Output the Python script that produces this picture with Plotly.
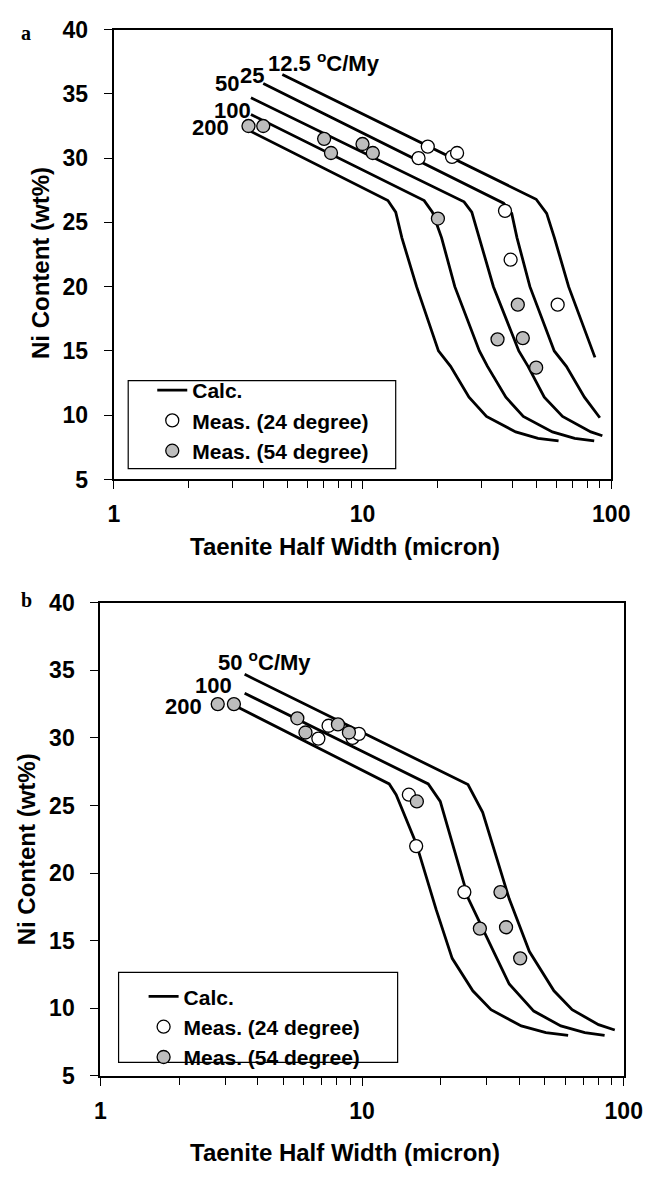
import numpy as np
import plotly.graph_objects as go

W, H = 662, 1177

# ---------------- Panel a data ----------------
a_rates = ["12.5", "25", "50", "100", "200"]
a_x_12 = [4.76, 49.9, 55.0, 59.1, 67.4, 86.0]
a_y_12 = [36.5, 26.8, 25.7, 23.8, 20.0, 14.5]
a_x_25 = [3.99, 36.9, 39.8, 41.8, 47.1, 59.0, 66.0, 78.0, 90.0]
a_y_25 = [35.8, 26.5, 25.7, 23.8, 20.0, 15.0, 13.8, 11.4, 9.8]
a_x_50 = [3.56, 25.6, 27.5, 29.5, 33.6, 42.5, 46.3, 53.8, 63.7, 82.8, 92.1]
a_y_50 = [34.7, 26.6, 25.8, 23.8, 20.0, 15.0, 13.8, 11.4, 9.9, 8.7, 8.4]
a_x_100 = [3.56, 17.7, 19.1, 20.8, 23.5, 29.5, 31.8, 37.7, 44.3, 58.0, 71.3, 85.4]
a_y_100 = [33.4, 26.7, 25.8, 23.8, 20.0, 15.0, 13.8, 11.4, 9.9, 8.7, 8.2, 8.0]
a_x_200 = [3.30, 12.65, 13.6, 14.4, 16.5, 20.2, 22.6, 26.8, 31.5, 41.3, 50.8, 61.4]
a_y_200 = [32.4, 26.7, 25.8, 23.8, 20.0, 15.0, 13.8, 11.4, 9.9, 8.7, 8.2, 8.0]

a_meas24_x = [18.3, 16.8, 22.9, 24.0, 37.4, 39.4, 60.9]
a_meas24_y = [30.9, 30.0, 30.1, 30.4, 25.9, 22.1, 18.6]
a_meas54_x = [3.48, 3.99, 7.01, 7.47, 10.0, 11.0, 20.1, 42.1, 34.9, 44.1, 49.9]
a_meas54_y = [32.5, 32.5, 31.5, 30.4, 31.1, 30.4, 25.3, 18.6, 15.9, 16.0, 13.7]

# ---------------- Panel b data ----------------
b_rates = ["50", "100", "200"]
b_x_50 = [3.56, 25.4, 28.9, 31.4, 36.5, 43.6, 54.1, 63.5, 80.1, 92.4]
b_y_50 = [34.7, 26.55, 24.5, 22.2, 18.1, 14.2, 11.3, 9.9, 8.8, 8.4]
b_x_100 = [3.56, 17.9, 19.9, 22.1, 25.5, 32.2, 36.5, 45.3, 57.5, 71.0, 84.5]
b_y_100 = [33.3, 26.6, 25.3, 22.2, 18.1, 14.0, 11.8, 9.8, 8.7, 8.2, 8.0]
b_x_200 = [3.33, 12.7, 13.5, 16.1, 19.2, 22.1, 26.5, 31.1, 40.6, 50.4, 61.3]
b_y_200 = [32.3, 26.6, 25.8, 22.2, 17.3, 13.7, 11.3, 9.9, 8.7, 8.2, 8.0]

b_meas24_x = [7.45, 6.81, 9.2, 9.73, 15.1, 16.1, 24.6]
b_meas24_y = [30.9, 29.95, 30.0, 30.3, 25.8, 22.0, 18.6]
b_meas54_x = [2.81, 3.24, 5.66, 6.08, 8.09, 8.91, 16.2, 33.8, 28.2, 35.5, 40.2]
b_meas54_y = [32.5, 32.5, 31.45, 30.4, 31.0, 30.4, 25.3, 18.6, 15.9, 16.0, 13.7]

x_major_ticks = [1, 10, 100]
x_minor_ticks = [2, 3, 4, 5, 6, 7, 8, 9, 20, 30, 40, 50, 60, 70, 80, 90]

FONT = "Liberation Sans, Arial, Helvetica, sans-serif"
LINE_W = 2.8
GRAY = "#bdbdbd"

fig = go.Figure()


def add_panel(curves, m24, m54, xa, ya, leg):
    for i, (cx, cy) in enumerate(curves):
        fig.add_trace(go.Scatter(
            x=cx, y=cy, mode="lines", xaxis=xa, yaxis=ya,
            line=dict(color="black", width=LINE_W),
            name="Calc.", showlegend=(i == 0), legend=leg))
    fig.add_trace(go.Scatter(
        x=m24[0], y=m24[1], mode="markers", xaxis=xa, yaxis=ya,
        marker=dict(size=13, color="white", line=dict(color="black", width=1.3)),
        name="Meas. (24 degree)", legend=leg))
    fig.add_trace(go.Scatter(
        x=m54[0], y=m54[1], mode="markers", xaxis=xa, yaxis=ya,
        marker=dict(size=13, color=GRAY, line=dict(color="black", width=1.3)),
        name="Meas. (54 degree)", legend=leg))


add_panel([(a_x_12, a_y_12), (a_x_25, a_y_25), (a_x_50, a_y_50),
           (a_x_100, a_y_100), (a_x_200, a_y_200)],
          (a_meas24_x, a_meas24_y), (a_meas54_x, a_meas54_y), "x", "y", "legend")
add_panel([(b_x_50, b_y_50), (b_x_100, b_y_100), (b_x_200, b_y_200)],
          (b_meas24_x, b_meas24_y), (b_meas54_x, b_meas54_y), "x2", "y2", "legend2")


def xaxis_cfg(domain, anchor):
    return dict(domain=domain, anchor=anchor, type="log", range=[0, 2],
                tickmode="array", tickvals=x_major_ticks,
                ticktext=[str(v) for v in x_major_ticks],
                ticks="outside", ticklen=8, tickwidth=1, tickcolor="black",
                minor=dict(tickmode="array", tickvals=x_minor_ticks, ticks="outside",
                           ticklen=7, tickwidth=1, tickcolor="black", showgrid=False),
                showline=True, linewidth=2, linecolor="black", mirror=True,
                showgrid=False, zeroline=False, ticklabelstandoff=5,
                tickfont=dict(family=FONT, size=23, color="black", weight="bold"))


def yaxis_cfg(domain, anchor):
    return dict(domain=domain, anchor=anchor, range=[5, 40], tick0=5, dtick=5,
                ticks="outside", ticklen=8, tickwidth=1, tickcolor="black",
                showline=True, linewidth=2, linecolor="black", mirror=True,
                showgrid=False, zeroline=False, ticklabelstandoff=11,
                tickfont=dict(family=FONT, size=23, color="black", weight="bold"))


def px_x(p):
    return p / W


def px_y(p):
    return 1 - p / H


ann = []
title_font = dict(family=FONT, size=24, color="black", weight="bold")
lab_font = dict(family=FONT, size=22, color="black", weight="bold")

# axis titles
for xc, yc in [(352, 546), (352, 1165)]:
    ann.append(dict(text="Taenite Half Width (micron)", x=px_x(xc), y=px_y(yc),
                    xref="paper", yref="paper", showarrow=False, font=title_font,
                    xanchor="center", yanchor="middle"))
for xc, yc in [(36, 256), (21, 855)]:
    ann.append(dict(text="Ni Content (wt%)", x=px_x(xc), y=px_y(yc), textangle=-90,
                    xref="paper", yref="paper", showarrow=False, font=title_font,
                    xanchor="center", yanchor="middle"))
# panel letters
for t, yc in [("a", 20), ("b", 600)]:
    ann.append(dict(text=t, x=px_x(21), y=px_y(yc), xref="paper", yref="paper",
                    showarrow=False, xanchor="center", yanchor="middle",
                    font=dict(family="Liberation Serif, Times New Roman, serif",
                              size=20, color="black", weight="bold")))

# curve labels panel a
a_labels = [("12.5 <sup>o</sup>C/My", 4.12, 37.5, "left"),
            ("25", 4.05, 36.4, "right"),
            ("50", 3.21, 35.8, "right"),
            ("100", 3.59, 33.7, "right"),
            ("200", 2.92, 32.4, "right")]
for t, xv, yv, anc in a_labels:
    ann.append(dict(text=t, x=np.log10(xv), y=yv, xref="x", yref="y", showarrow=False,
                    xanchor=anc, yanchor="middle", font=lab_font, borderpad=0))
b_labels = [("50 <sup>o</sup>C/My", 2.79, 35.66, "left"),
            ("100", 3.22, 33.86, "right"),
            ("200", 2.46, 32.3, "right")]
for t, xv, yv, anc in b_labels:
    ann.append(dict(text=t, x=np.log10(xv), y=yv, xref="x2", yref="y2", showarrow=False,
                    xanchor=anc, yanchor="middle", font=lab_font, borderpad=0))

# legend boxes
shapes = []
for x0, y0, x1, y1 in [(127, 376, 405, 466), (117, 981, 407, 1073)]:
    shapes.append(dict(type="rect", xref="paper", yref="paper",
                       x0=px_x(x0), x1=px_x(x1), y0=px_y(y1), y1=px_y(y0),
                       line=dict(color="black", width=1.2), fillcolor="rgba(0,0,0,0)"))

leg_font = dict(family=FONT, size=21, color="black", weight="bold")

fig.update_layout(
    width=W, height=H,
    margin=dict(l=0, r=0, t=0, b=0),
    paper_bgcolor="white", plot_bgcolor="white",
    xaxis=xaxis_cfg([px_x(112), px_x(629)], "y"),
    yaxis=yaxis_cfg([px_y(477), px_y(17)], "x"),
    xaxis2=xaxis_cfg([px_x(98), px_x(642)], "y2"),
    yaxis2=yaxis_cfg([px_y(1087), px_y(603)], "x2"),
    annotations=ann,
    shapes=shapes,
    legend=dict(x=px_x(152), y=px_y(365), xanchor="left", yanchor="top",
                bgcolor="rgba(0,0,0,0)", borderwidth=0, font=leg_font,
                tracegroupgap=0),
    legend2=dict(x=px_x(143), y=px_y(985), xanchor="left", yanchor="top",
                 bgcolor="rgba(0,0,0,0)", borderwidth=0, font=leg_font,
                 tracegroupgap=0),
    showlegend=True,
)

fig.write_html("out.html")
